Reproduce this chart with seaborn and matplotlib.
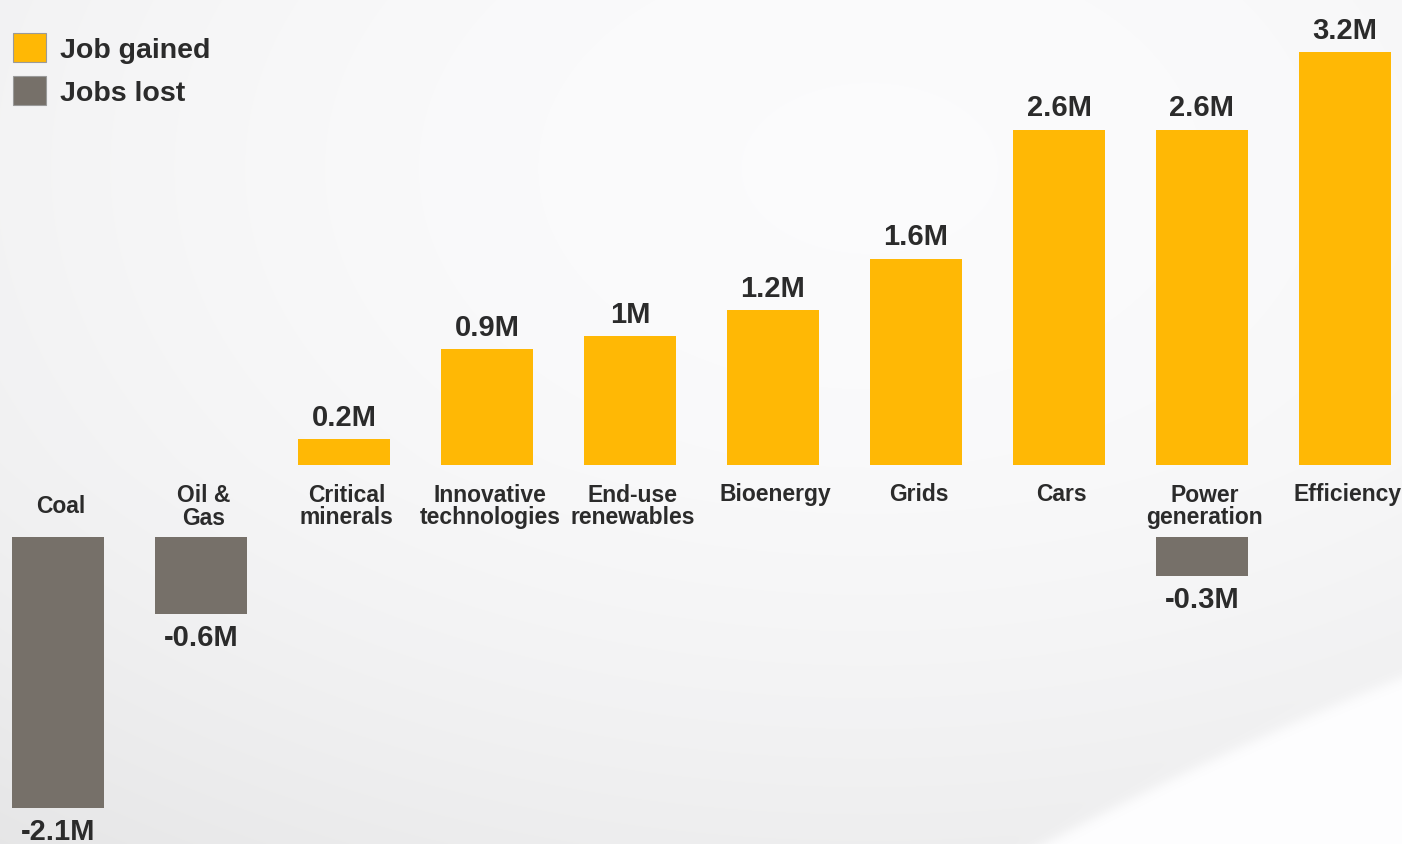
import numpy as np
import pandas as pd
import matplotlib
matplotlib.use("Agg")
import matplotlib.pyplot as plt
from matplotlib.patches import Patch
from matplotlib.transforms import blended_transform_factory
import seaborn as sns

# ---- data (millions of jobs) ----
categories = ["Coal", "Oil &\nGas", "Critical\nminerals", "Innovative\ntechnologies",
              "End-use\nrenewables", "Bioenergy", "Grids", "Cars",
              "Power\ngeneration", "Efficiency"]
jobs_gained = [0, 0, 0.2, 0.9, 1.0, 1.2, 1.6, 2.6, 2.6, 3.2]
jobs_lost = [-2.1, -0.6, 0, 0, 0, 0, 0, 0, -0.3, 0]
gained_labels = ["", "", "0.2M", "0.9M", "1M", "1.2M", "1.6M", "2.6M", "2.6M", "3.2M"]
lost_labels = ["-2.1M", "-0.6M", "", "", "", "", "", "", "-0.3M", ""]

GAIN_COLOR = "#FFB805"
LOSS_COLOR = "#767069"
TEXT_COLOR = "#2B2B2B"

sns.set_theme(style="white")
plt.rcParams["font.family"] = ["Liberation Sans", "DejaVu Sans"]
plt.rcParams["font.weight"] = "bold"

W, H = 1402, 845
fig = plt.figure(figsize=(W / 100, H / 100), dpi=100)

# ---- soft grey background with a light sweep in the lower right ----
bg = fig.add_axes([0, 0, 1, 1], zorder=-10)
yy, xx = np.mgrid[0:H, 0:W]
xn, yn = xx / W, yy / H
val = 0.985 - 0.075 * (1.1 * (xn - 0.62) ** 2 + 0.9 * (yn - 0.2) ** 2)
val -= 0.02 * np.clip(yn - 0.55, 0, None)
curve = 678 + (W - xx) * 0.40 + (W - xx) ** 2 * 0.00018
inside = 1 / (1 + np.exp(-(yy - curve) / 4.0))
val = val * (1 - inside) + 0.995 * inside
img = np.dstack([val, val, val * 1.004]).clip(0, 1)
bg.imshow(img, extent=(0, W, H, 0), aspect="auto", interpolation="bilinear")
bg.set_axis_off()

# ---- axes: gains above, losses below, same scale ----
px_per_m = 129.0
top_base, bot_base = 466, 538
x_lo = -58 / 143
x_hi = (W - 58) / 143

ax_top = fig.add_axes([0, (H - top_base) / H, 1, top_base / H])
ax_bot = fig.add_axes([0, 0, 1, (H - bot_base) / H])
for ax in (ax_top, ax_bot):
    ax.set_facecolor("none")
    ax.set_axis_off()

df = pd.DataFrame({"category": categories, "gained": jobs_gained, "lost": jobs_lost})

sns.barplot(data=df, x="category", y="gained", order=categories, color=GAIN_COLOR,
            saturation=1, width=0.643, ax=ax_top, linewidth=0)
sns.barplot(data=df, x="category", y="lost", order=categories, color=LOSS_COLOR,
            saturation=1, width=0.643, ax=ax_bot, linewidth=0)

ax_top.set_xlim(x_lo, x_hi)
ax_bot.set_xlim(x_lo, x_hi)
ax_top.set_ylim(0, top_base / px_per_m)
ax_bot.set_ylim(-(H - bot_base) / px_per_m, 0)

VALUE_FS = 21
CAT_FS = 16.5

# value labels
for i, (v, lab) in enumerate(zip(jobs_gained, gained_labels)):
    if lab:
        ax_top.annotate(lab, xy=(i, v), xytext=(0, 6), textcoords="offset points",
                        ha="center", va="bottom", fontsize=VALUE_FS, fontweight="bold",
                        color=TEXT_COLOR, annotation_clip=False)
for i, (v, lab) in enumerate(zip(jobs_lost, lost_labels)):
    if lab:
        ax_bot.annotate(lab, xy=(i, v), xytext=(0, -6.5), textcoords="offset points",
                        ha="center", va="top", fontsize=VALUE_FS, fontweight="bold",
                        color=TEXT_COLOR, annotation_clip=False)

# category names in the gap between the two panels
tr = blended_transform_factory(ax_top.transData, fig.transFigure)
first_line_y, line_step, gap_mid = 495, 23, 507
for i, cat in enumerate(categories):
    n_lines = cat.count("\n") + 1
    if jobs_gained[i] > 0:
        y_px = first_line_y + (n_lines - 1) * line_step / 2
    else:
        y_px = gap_mid
    ax_top.text(i + 0.02, (H - y_px) / H, cat, transform=tr, ha="center", va="center",
                fontsize=CAT_FS, fontweight="bold", color=TEXT_COLOR,
                linespacing=0.98, clip_on=False)

# legend
handles = [Patch(facecolor=GAIN_COLOR, edgecolor="#9a9a9a", linewidth=0.8, label="Job gained"),
           Patch(facecolor=LOSS_COLOR, edgecolor="#9a9a9a", linewidth=0.8, label="Jobs lost")]
leg = fig.legend(handles=handles, loc="upper left", bbox_to_anchor=(-0.003, 0.98),
                 frameon=False, fontsize=20.5, handlelength=1.15, handleheight=1.2,
                 handletextpad=0.5, labelspacing=0.45, borderaxespad=0.25,
                 borderpad=0.35)
for t in leg.get_texts():
    t.set_color(TEXT_COLOR)
    t.set_fontweight("bold")

fig.savefig("out.png", dpi=100)
